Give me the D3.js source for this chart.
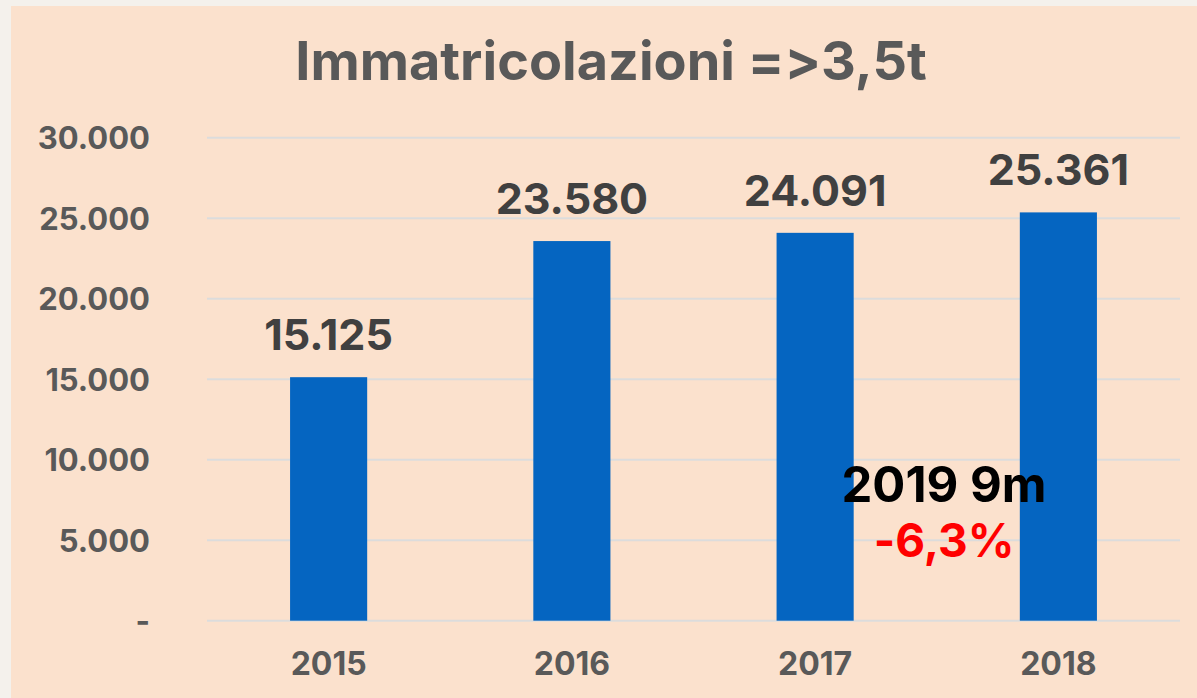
<!DOCTYPE html>
<html><head><meta charset="utf-8">
<script src="https://cdn.jsdelivr.net/npm/d3@7"></script>
<style>
html,body{margin:0;padding:0;background:#f4f1ec;}
svg{display:block;}
text{font-family:Inter,"Open Sans",sans-serif;font-weight:700;font-feature-settings:"liga" 0,"calt" 0;font-variant-ligatures:none;}
</style></head>
<body>
<svg id="chart" width="1197" height="698"></svg>
<script>
const categories = ["2015","2016","2017","2018"];
const values = [15125, 23580, 24091, 25361];
const valueLabels = ["15.125","23.580","24.091","25.361"];
const yTicks = [0, 5000, 10000, 15000, 20000, 25000, 30000];
const yTickLabels = ["-","5.000","10.000","15.000","20.000","25.000","30.000"];
const title = "Immatricolazioni =>3,5t";
const noteLines = ["2019 9m", "-6,3%"];

(function(){
const svg = d3.select("#chart");
svg.append("rect").attr("x",11).attr("y",6).attr("width",1186).attr("height",692).attr("fill","#fbe1cd");

const pLeft = 207, pRight = 1180, pTop = 137.7, pBottom = 620.7;
const x = d3.scaleBand().domain(categories).range([pLeft,pRight]).paddingInner(0.683).paddingOuter(0.3415);
const y = d3.scaleLinear().domain([0,30000]).range([pBottom,pTop]);

svg.append("g").selectAll("line").data(yTicks).join("line")
  .attr("x1",pLeft).attr("x2",pRight)
  .attr("y1",d=>y(d)).attr("y2",d=>y(d))
  .attr("stroke","#dcdcdc").attr("stroke-width",2);

const yAxis = d3.axisLeft(y).tickValues(yTicks).tickSize(0).tickPadding(0)
  .tickFormat((d,i)=>yTickLabels[i]);
const gy = svg.append("g").attr("transform","translate(150,0)").call(yAxis);
gy.select(".domain").remove();
gy.selectAll("text").attr("fill","#595959").attr("font-size",31).attr("dy","0.36em")
  .style("font-family","Inter,sans-serif").style("font-weight",700);

const xAxis = d3.axisBottom(x).tickSize(0).tickPadding(0);
const gx = svg.append("g").attr("transform","translate(0,675)").call(xAxis);
gx.select(".domain").remove();
gx.selectAll("text").attr("fill","#595959").attr("font-size",32).attr("dy",0)
  .style("font-family","Inter,sans-serif").style("font-weight",700);

svg.append("g").selectAll("rect").data(values).join("rect")
  .attr("x",(d,i)=>x(categories[i])).attr("width",x.bandwidth())
  .attr("y",d=>y(d)).attr("height",d=>pBottom-y(d))
  .attr("fill","#0565c1");

svg.append("g").selectAll("text").data(values).join("text")
  .attr("x",(d,i)=>x(categories[i])+x.bandwidth()/2)
  .attr("y",d=>y(d)-27)
  .attr("text-anchor","middle").attr("font-size",43).attr("fill","#404040")
  .text((d,i)=>valueLabels[i]);

svg.append("text").attr("x",611).attr("y",80).attr("text-anchor","middle")
  .attr("font-size",54).attr("fill","#595959").text(title);

svg.append("text").attr("x",944).attr("y",502).attr("text-anchor","middle")
  .attr("font-size",49).attr("fill","#000").text(noteLines[0]);
svg.append("text").attr("x",944).attr("y",557).attr("text-anchor","middle")
  .attr("font-size",46).attr("fill","#ff0000").text(noteLines[1]);
})();
</script>
</body></html>
